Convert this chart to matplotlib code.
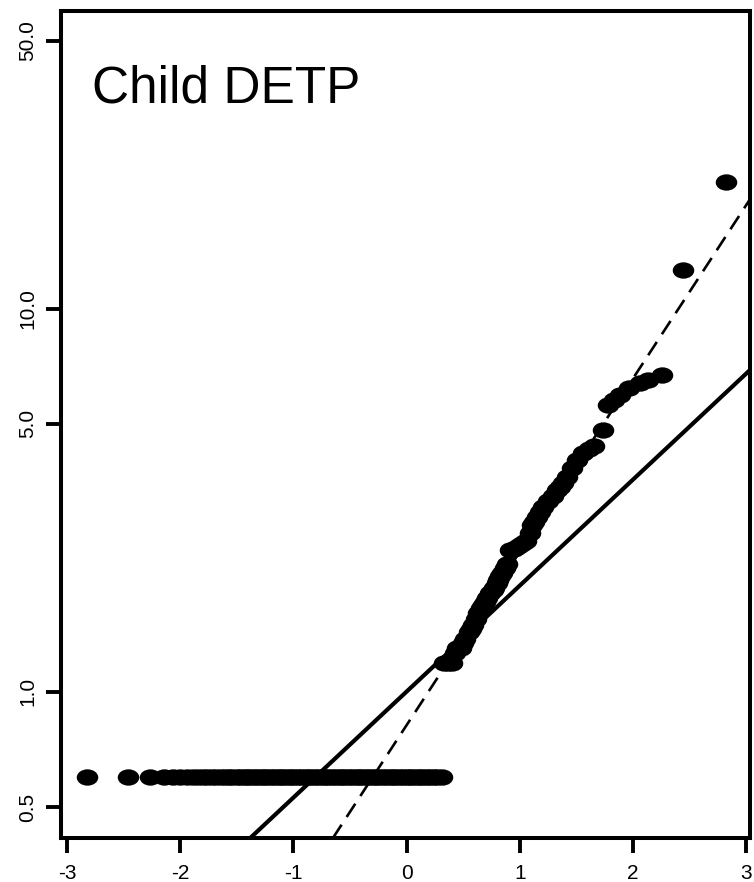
import numpy as np
import matplotlib.pyplot as plt
from matplotlib.path import Path
from matplotlib.transforms import Affine2D

plt.rcParams['font.family'] = ['Liberation Sans', 'DejaVu Sans']

# --- data ---
# flat run of tied values at the bottom (theoretical quantiles)
flat_x = [-2.82, -2.46, -2.27, -2.14, -2.06, -2.00, -1.94, -1.89, -1.84, -1.80,
          -1.76, -1.72, -1.68, -1.64, -1.60, -1.57, -1.54, -1.50, -1.47, -1.44,
          -1.41, -1.38, -1.35, -1.32, -1.29, -1.26, -1.23, -1.20, -1.17, -1.14,
          -1.11, -1.08, -1.05, -1.02, -0.99, -0.96, -0.93, -0.90, -0.87, -0.84,
          -0.81, -0.78, -0.75, -0.72, -0.69, -0.66, -0.63, -0.60, -0.57, -0.54,
          -0.51, -0.48, -0.45, -0.42, -0.39, -0.36, -0.33, -0.30, -0.27, -0.24,
          -0.21, -0.18, -0.15, -0.12, -0.09, -0.06, -0.03, 0.00, 0.03, 0.06,
          0.09, 0.12, 0.15, 0.18, 0.21, 0.24, 0.27, 0.31]
flat_y = [0.6] * len(flat_x)

# upper tail
tail_x = [0.33, 0.37, 0.40, 0.43, 0.445, 0.48, 0.50, 0.516, 0.55, 0.57,
          0.587, 0.61, 0.631, 0.66, 0.68, 0.693, 0.715, 0.737, 0.76, 0.77,
          0.799, 0.81, 0.825, 0.843, 0.87, 0.887, 0.913, 0.95, 0.98, 1.00,
          1.03, 1.06, 1.09, 1.11, 1.13, 1.15, 1.18, 1.205, 1.25, 1.29,
          1.33, 1.36, 1.38, 1.42, 1.46, 1.51, 1.56, 1.61, 1.66, 1.735,
          1.78, 1.835, 1.885, 1.97, 2.06, 2.13, 2.256, 2.44, 2.82]
tail_y = [1.19, 1.19, 1.19, 1.26, 1.30, 1.30, 1.34, 1.37, 1.43, 1.46,
          1.49, 1.55, 1.60, 1.65, 1.68, 1.71, 1.76, 1.81, 1.84, 1.86,
          1.92, 1.96, 2.00, 2.04, 2.10, 2.15, 2.34, 2.36, 2.38, 2.42,
          2.45, 2.48, 2.60, 2.72, 2.78, 2.85, 2.95, 3.03, 3.15, 3.25,
          3.36, 3.43, 3.50, 3.63, 3.83, 4.02, 4.19, 4.30, 4.39, 4.81,
          5.60, 5.78, 5.94, 6.20, 6.39, 6.50, 6.70, 12.6, 21.4]

# reference lines, two points each (straight on the log axis)
solid_pts = [(0.0, 1.0), (3.0, 6.76)]
dashed_pts = [(0.0, 0.817), (3.0, 18.6)]

yticks = [0.5, 1.0, 5.0, 10.0, 50.0]
ytick_labels = ['0.5', '1.0', '5.0', '10.0', '50.0']
xticks = [-3, -2, -1, 0, 1, 2, 3]

# --- figure ---
fig = plt.figure(figsize=(7.54, 8.82), dpi=100)
ax = fig.add_axes([0.0809, 0.0499, 0.9138, 0.9376])

# elliptical marker like R's pch=19 stretched
ell = Path.unit_circle().transformed(Affine2D().scale(1.0, 0.76))

ax.set_yscale('log')
ax.axline(solid_pts[0], solid_pts[1], color='black', lw=3.0, zorder=2)
ax.axline(dashed_pts[0], dashed_pts[1], color='black', lw=1.9,
          dashes=(6, 3.5), zorder=2)

all_x = flat_x + tail_x
all_y = flat_y + tail_y
ax.plot(all_x, all_y, linestyle='none', marker=ell, markersize=15.5,
        color='black', markeredgewidth=0, zorder=3)

ax.set_xlim(-3.053, 3.035)
ax.set_ylim(0.415, 59.8)

ax.set_xticks(xticks)
ax.set_xticklabels([str(t) for t in xticks])
ax.set_yticks(yticks)
ax.set_yticklabels(ytick_labels, rotation=90, va='center')
ax.yaxis.set_minor_locator(plt.NullLocator())
ax.tick_params(axis='both', which='major', direction='out', length=11,
               width=2.8, labelsize=15, color='black')
ax.tick_params(axis='x', pad=8)
ax.tick_params(axis='y', pad=6)

for sp in ax.spines.values():
    sp.set_linewidth(2.9)
    sp.set_color('black')

ax.text(0.045, 0.889, 'Child DETP', transform=ax.transAxes, fontsize=37,
        ha='left', va='baseline')

fig.savefig('out.png', dpi=100)
